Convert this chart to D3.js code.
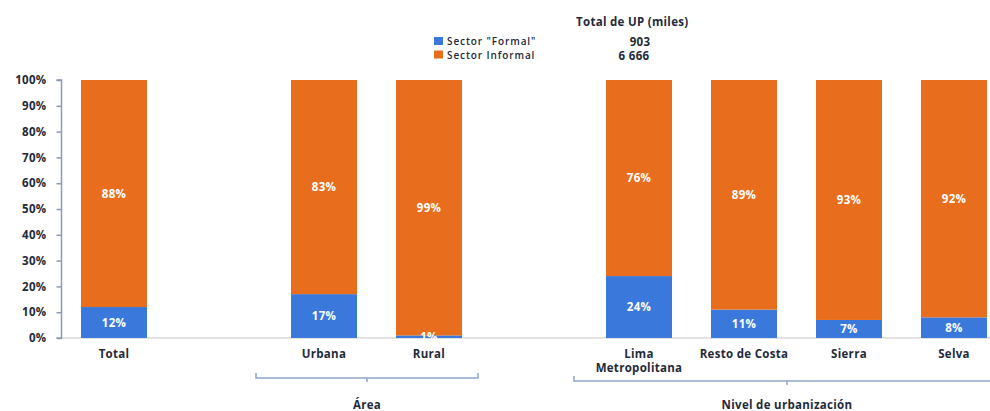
<!DOCTYPE html>
<html>
<head>
<meta charset="utf-8">
<script src="https://cdn.jsdelivr.net/npm/d3@7"></script>
<style>
  body { margin: 0; background: #fff; }
  svg text { font-family: "Open Sans", sans-serif; font-weight: 700; fill: #1f2a3a; letter-spacing: 0.3px; }
</style>
</head>
<body>
<svg id="chart" width="990" height="411"></svg>
<script>
// --- Data ------------------------------------------
// "gap" slots are empty spacers between the groups
const slots = ["Total", "gap1", "Urbana", "Rural", "gap2", "Lima Metropolitana", "Resto de Costa", "Sierra", "Selva"];
const categories = ["Total", "Urbana", "Rural", "Lima Metropolitana", "Resto de Costa", "Sierra", "Selva"];
const formal = [12, 17, 1, 24, 11, 7, 8];
const informal = [88, 83, 99, 76, 89, 93, 92];
const seriesNames = ['Sector "Formal"', "Sector Informal"];
const totals = ["903", "6 666"];
const yTicks = [0, 10, 20, 30, 40, 50, 60, 70, 80, 90, 100];
const groups = [
  {name: "Área", members: ["Urbana", "Rural"]},
  {name: "Nivel de urbanización", members: ["Lima Metropolitana", "Resto de Costa", "Sierra", "Selva"]}
];

const blue = "#3a78dc";
const orange = "#e86d1c";

const svg = d3.select("#chart");
const margin = {left: 61.5, top: 80, bottom: 338};

// 105px per slot, bars 66px wide
const x = d3.scaleBand()
  .domain(slots)
  .range([margin.left, margin.left + 105 * slots.length])
  .paddingInner(39 / 105)
  .paddingOuter(39 / 105 / 2);

const y = d3.scaleLinear().domain([0, 100]).range([margin.bottom, margin.top]);

const data = categories.map((c, i) => ({cat: c, formal: formal[i], informal: informal[i]}));

// baseline
svg.append("line")
  .attr("x1", margin.left).attr("x2", 990)
  .attr("y1", y(0)).attr("y2", y(0))
  .attr("stroke", "#d9d9d9").attr("stroke-width", 1.5);

// --- Bars -------------------------------------------
const bar = svg.selectAll("g.bar")
  .data(data)
  .enter().append("g")
  .attr("class", "bar")
  .attr("transform", d => "translate(" + x(d.cat) + ",0)");

bar.append("rect")
  .attr("y", d => y(d.formal))
  .attr("width", x.bandwidth())
  .attr("height", d => y(0) - y(d.formal))
  .attr("fill", blue);

bar.append("rect")
  .attr("y", d => y(100))
  .attr("width", x.bandwidth())
  .attr("height", d => y(d.formal) - y(100))
  .attr("fill", orange);

bar.append("text")
  .attr("x", x.bandwidth() / 2)
  .attr("y", d => (y(0) + y(d.formal)) / 2)
  .attr("dy", "0.35em")
  .attr("text-anchor", "middle")
  .style("font-size", "11.5px")
  .style("fill", "#fff")
  .text(d => d.formal + "%");

bar.append("text")
  .attr("x", x.bandwidth() / 2)
  .attr("y", d => (y(100) + y(d.formal)) / 2)
  .attr("dy", "0.35em")
  .attr("text-anchor", "middle")
  .style("font-size", "11.5px")
  .style("fill", "#fff")
  .text(d => d.informal + "%");

// --- Y axis -----------------------------------------
const yAxis = svg.append("g")
  .attr("transform", "translate(" + margin.left + ",0)")
  .call(d3.axisLeft(y).tickValues(yTicks).tickSize(5).tickPadding(10).tickFormat(d => d + "%"));
yAxis.selectAll("path, line").attr("stroke", "#8a9bb4").attr("stroke-width", 1.5);
yAxis.select(".domain").attr("d", "M-5," + y(100) + "H0V" + y(0) + "H-5");
yAxis.selectAll("text")
  .style("font-family", '"Open Sans", sans-serif')
  .style("font-weight", 700)
  .style("font-size", "11.5px")
  .attr("fill", "#1f2a3a");

// --- Category labels ----------------------------------
svg.selectAll("text.cat")
  .data(data)
  .enter().append("text")
  .attr("class", "cat")
  .attr("x", d => x(d.cat) + x.bandwidth() / 2)
  .attr("y", 358)
  .attr("text-anchor", "middle")
  .style("font-size", "11.5px")
  .each(function(d) {
    const words = d.cat === "Lima Metropolitana" ? ["Lima", "Metropolitana"] : [d.cat];
    d3.select(this).selectAll("tspan")
      .data(words)
      .enter().append("tspan")
      .attr("x", x(d.cat) + x.bandwidth() / 2)
      .attr("dy", (w, i) => i ? 14 : 0)
      .text(w => w);
  });

// --- Group brackets -----------------------------------
const bracketY = [378, 381];
const bracketX = [[256, 478], [574, 1000]];
groups.forEach((g, i) => {
  const [x0, x1] = bracketX[i];
  const by = bracketY[i];
  const mid = (x0 + x1) / 2;
  svg.append("path")
    .attr("d", "M" + x0 + "," + (by - 5) + "V" + by + "H" + x1 + "V" + (by - 5) + "M" + mid + "," + by + "V" + (by + 4))
    .attr("fill", "none")
    .attr("stroke", "#8ea6c8")
    .attr("stroke-width", 1.5);
  svg.append("text")
    .attr("x", i === 0 ? mid : 787)
    .attr("y", 409)
    .attr("text-anchor", "middle")
    .style("font-size", "11.5px")
    .text(g.name);
});

// --- Legend -------------------------------------------
svg.append("text")
  .attr("x", 576).attr("y", 26)
  .style("font-size", "11.5px")
  .text("Total de UP (miles)");

const leg = svg.selectAll("g.leg")
  .data(seriesNames)
  .enter().append("g")
  .attr("class", "leg")
  .attr("transform", (d, i) => "translate(434," + (37 + i * 13.5) + ")");

leg.append("rect")
  .attr("width", 9).attr("height", 8)
  .attr("fill", (d, i) => i ? orange : blue);

leg.append("text")
  .attr("x", 13).attr("y", 8)
  .style("font-size", "10px")
  .style("font-weight", 600)
  .style("letter-spacing", "0.9px")
  .text(d => d);

svg.selectAll("text.tot")
  .data(totals)
  .enter().append("text")
  .attr("class", "tot")
  .attr("x", (d, i) => i ? 634 : 640)
  .attr("y", (d, i) => 46 + i * 14)
  .attr("text-anchor", "middle")
  .style("font-size", "11.5px")
  .text(d => d);
</script>
</body>
</html>
